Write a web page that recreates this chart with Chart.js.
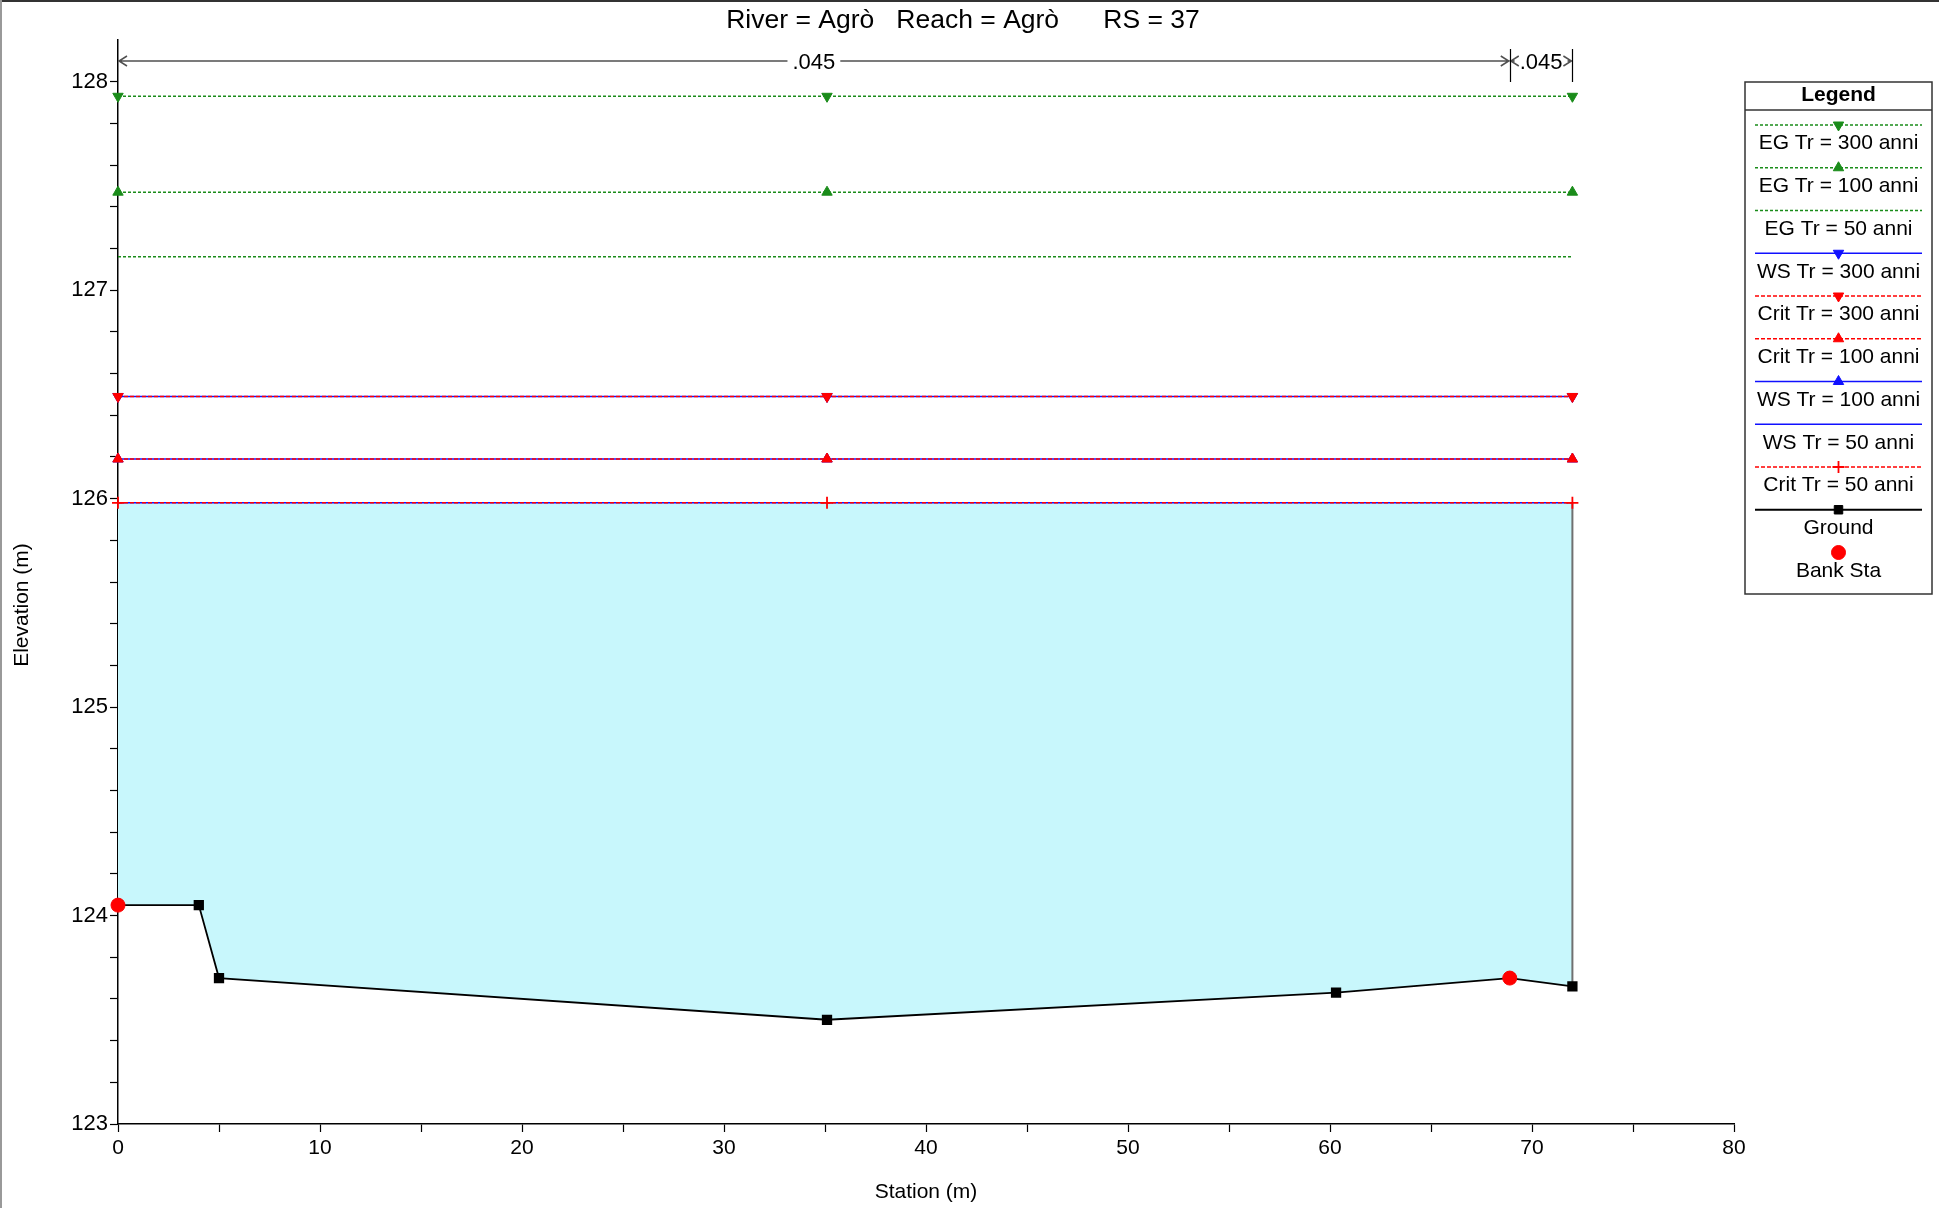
<!DOCTYPE html>
<html>
<head>
<meta charset="utf-8">
<title>River = Agrò Reach = Agrò RS = 37</title>
<script src="https://cdn.jsdelivr.net/npm/chart.js@4.4.1/dist/chart.umd.min.js"></script>
<style>
  html, body { margin: 0; padding: 0; background: #fff; }
  #wrap { position: relative; width: 1939px; height: 1208px; }
  #wrap::before { content: ""; position: absolute; left: 0; top: 0; width: 1939px; height: 2px; background: #333; }
  #wrap::after { content: ""; position: absolute; left: 0; top: 0; width: 2px; height: 1208px; background: #999; }
  #myChart { display: block; }
</style>
</head>
<body>
<div id="wrap"><canvas id="myChart" width="1939" height="1208"></canvas></div>
<script>
const TITLE = "River = Agrò   Reach = Agrò      RS = 37";
const FONT = '"Liberation Sans", Arial, sans-serif';

// profile levels (m), order: Tr 300, Tr 100, Tr 50
const egElev = [127.93, 127.47, 127.16];
const wsElev = [126.49, 126.19, 125.98];
const critElev = [126.49, 126.19, 125.98];
const markSta = [0, 35.1, 72]; // stations where level markers are drawn

// ground profile
const groundSta = [0, 4, 5, 35.1, 60.3, 68.9, 72];
const groundElev = [124.05, 124.05, 123.7, 123.5, 123.63, 123.7, 123.66];

// bank stations
const bankSta = [0, 68.9];
const bankElev = [124.05, 123.7];

// manning n breaks along the top
const mannBreaks = [0, 68.9, 72];
const mannN = [".045", ".045"];

const GREEN = "#1a8c1a";
const BLUE = "#1010ff";
const RED = "#ff0000";

// tick labels in the reference use a narrow face; use it if it is installed
function hasFont(name) {
  const c = document.createElement("canvas").getContext("2d");
  c.font = "40px monospace";
  const a = c.measureText("128 Station").width;
  c.font = '40px "' + name + '", monospace';
  const b = c.measureText("128 Station").width;
  return a !== b;
}
const NARROW = hasFont("Liberation Sans Narrow");
const yTickFont = NARROW
  ? { family: '"Liberation Sans Narrow", ' + FONT, size: 24 }
  : { family: FONT, size: 22 };
const xTickFont = NARROW
  ? { family: '"Liberation Sans Narrow", ' + FONT, size: 23 }
  : { family: FONT, size: 21 };

Chart.defaults.font.family = FONT;
Chart.defaults.color = "#000";

function levelLine(label, elev, color, dash, style, rotation, order) {
  return {
    label: label,
    data: markSta.map((x) => ({ x: x, y: elev })),
    borderColor: color,
    borderWidth: 1.5,
    borderDash: dash,
    pointStyle: style || "circle",
    pointRotation: rotation || 0,
    pointRadius: style ? 6 : 0,
    pointBorderWidth: style === "cross" ? 1.8 : 1,
    pointBackgroundColor: color,
    pointBorderColor: color,
    clip: false,
    order: order,
    inLegend: true,
  };
}

const lastG = groundSta.length - 1;
const waterPoly = [
  { x: groundSta[0], y: wsElev[2] },
  { x: groundSta[lastG], y: wsElev[2] },
];
for (let i = lastG; i >= 0; i--) {
  waterPoly.push({ x: groundSta[i], y: groundElev[i] });
}

const datasets = [
  levelLine("EG Tr = 300 anni", egElev[0], GREEN, [3, 2], "triangle", 180, 4),
  levelLine("EG Tr = 100 anni", egElev[1], GREEN, [3, 2], "triangle", 0, 4),
  levelLine("EG Tr = 50 anni", egElev[2], GREEN, [3, 2], null, 0, 4),
  levelLine("WS Tr = 300 anni", wsElev[0], BLUE, [], "triangle", 180, 4),
  levelLine("Crit Tr = 300 anni", critElev[0], RED, [4, 2], "triangle", 180, 2),
  levelLine("Crit Tr = 100 anni", critElev[1], RED, [4, 2], "triangle", 0, 2),
  levelLine("WS Tr = 100 anni", wsElev[1], BLUE, [], "triangle", 0, 4),
  levelLine("WS Tr = 50 anni", wsElev[2], BLUE, [], null, 0, 4),
  levelLine("Crit Tr = 50 anni", critElev[2], RED, [4, 2], "cross", 0, 2),
  {
    label: "Ground",
    data: groundSta.map((x, i) => ({ x: x, y: groundElev[i] })),
    borderColor: "#000",
    borderWidth: 1.8,
    pointStyle: "rect",
    pointRadius: 6,
    pointBackgroundColor: "#000",
    pointBorderColor: "#000",
    clip: false,
    order: 1,
    inLegend: true,
  },
  {
    label: "Bank Sta",
    data: bankSta.map((x, i) => ({ x: x, y: bankElev[i] })),
    showLine: false,
    pointStyle: "circle",
    pointRadius: 7,
    pointBackgroundColor: RED,
    pointBorderColor: RED,
    borderColor: RED,
    clip: false,
    order: 0,
    inLegend: true,
  },
  {
    label: "water edge",
    data: [
      { x: groundSta[lastG], y: wsElev[2] },
      { x: groundSta[lastG], y: groundElev[lastG] },
    ],
    borderColor: "#707070",
    borderWidth: 2,
    pointRadius: 0,
    order: 5,
  },
  {
    label: "water",
    data: waterPoly,
    fill: "shape",
    backgroundColor: "rgb(200,247,252)",
    borderColor: "rgba(0,0,0,0)",
    borderWidth: 0,
    pointRadius: 0,
    order: 6,
  },
];

const extras = {
  id: "extras",
  afterDraw(chart) {
    const { ctx, chartArea, scales } = chart;
    ctx.save();

    // title
    ctx.fillStyle = "#000";
    ctx.textAlign = "center";
    ctx.textBaseline = "middle";
    ctx.font = "26.5px " + FONT;
    ctx.fillText(TITLE, 963, 21);

    // y axis title, centred on the page height like the reference
    ctx.save();
    ctx.translate(22, 605);
    ctx.rotate(-Math.PI / 2);
    ctx.font = "21px " + FONT;
    ctx.fillText("Elevation (m)", 0, 0);
    ctx.restore();

    // manning n arrows
    const yA = chartArea.top + 21;
    ctx.strokeStyle = "#505050";
    ctx.lineWidth = 1.5;
    ctx.font = "22px " + FONT;
    for (let i = 0; i < mannN.length; i++) {
      const xa = scales.x.getPixelForValue(mannBreaks[i]);
      const xb = scales.x.getPixelForValue(mannBreaks[i + 1]);
      const mid = (xa + xb) / 2;
      const half = ctx.measureText(mannN[i]).width / 2 + 5;
      ctx.beginPath();
      if (mid - half > xa + 2) {
        ctx.moveTo(xa, yA);
        ctx.lineTo(mid - half, yA);
      }
      if (mid + half < xb - 2) {
        ctx.moveTo(mid + half, yA);
        ctx.lineTo(xb, yA);
      }
      // open arrow heads
      ctx.moveTo(xa + 9, yA - 5);
      ctx.lineTo(xa + 1, yA);
      ctx.lineTo(xa + 9, yA + 5);
      ctx.moveTo(xb - 9, yA - 5);
      ctx.lineTo(xb - 1, yA);
      ctx.lineTo(xb - 9, yA + 5);
      ctx.stroke();
      ctx.fillText(mannN[i], mid, yA + 2);
    }
    ctx.strokeStyle = "#000";
    ctx.lineWidth = 1.2;
    ctx.beginPath();
    for (let i = 1; i < mannBreaks.length; i++) {
      const xb = Math.round(scales.x.getPixelForValue(mannBreaks[i])) + 0.5;
      ctx.moveTo(xb, chartArea.top + 9);
      ctx.lineTo(xb, chartArea.top + 42);
    }
    ctx.stroke();

    // legend box
    const bx = 1745, by = 82, bw = 187, bh = 512;
    const cx = bx + bw / 2;
    ctx.fillStyle = "#fff";
    ctx.fillRect(bx, by, bw, bh);
    ctx.strokeStyle = "#333";
    ctx.lineWidth = 1.5;
    ctx.strokeRect(bx, by, bw, bh);
    ctx.beginPath();
    ctx.moveTo(bx, by + 28);
    ctx.lineTo(bx + bw, by + 28);
    ctx.stroke();
    ctx.fillStyle = "#000";
    ctx.font = "bold 21px " + FONT;
    ctx.fillText("Legend", cx, by + 13);

    const items = chart.data.datasets.filter((d) => d.inLegend);
    ctx.font = "21px " + FONT;
    items.forEach((d, i) => {
      const ly = 125 + i * 42.75;
      if (d.showLine !== false) {
        ctx.save();
        ctx.strokeStyle = d.borderColor;
        ctx.lineWidth = d.borderWidth;
        ctx.setLineDash(d.borderDash || []);
        ctx.beginPath();
        ctx.moveTo(1755, ly);
        ctx.lineTo(1922, ly);
        ctx.stroke();
        ctx.restore();
      }
      if (d.pointRadius > 0) {
        ctx.save();
        ctx.fillStyle = d.pointBackgroundColor;
        ctx.strokeStyle = d.pointBorderColor;
        ctx.lineWidth = d.pointBorderWidth || 1;
        Chart.helpers.drawPoint(ctx, {
          pointStyle: d.pointStyle,
          rotation: d.pointRotation || 0,
          radius: d.pointRadius,
          borderWidth: d.pointBorderWidth || 1,
        }, cx, ly);
        ctx.restore();
      }
      ctx.fillStyle = "#000";
      ctx.fillText(d.label, cx, ly + 18.5);
    });

    ctx.restore();
  },
};

const canvas = document.getElementById("myChart");
const ctx = canvas.getContext("2d");

new Chart(ctx, {
  type: "line",
  data: { datasets: datasets },
  options: {
    responsive: false,
    animation: false,
    devicePixelRatio: 1,
    layout: { padding: { left: 0, top: 40, right: 205, bottom: 0 } },
    scales: {
      x: {
        type: "linear",
        min: 0,
        max: 80,
        afterFit: (scale) => { scale.height = 84; },
        border: { display: true, color: "#000", width: 1.5 },
        grid: { drawOnChartArea: false, tickLength: 8, tickColor: "#000", tickWidth: 1.2 },
        ticks: {
          stepSize: 5,
          autoSkip: false,
          maxRotation: 0,
          color: "#000",
          padding: 4,
          font: xTickFont,
          callback: (v) => (v % 10 === 0 ? v : ""),
        },
        title: { display: true, text: "Station (m)", color: "#000", font: { size: 21 }, padding: { top: 0, bottom: 3 } },
      },
      y: {
        type: "linear",
        min: 123,
        max: 128.2,
        afterFit: (scale) => { scale.width = 118; },
        border: { display: true, color: "#000", width: 1.5 },
        grid: {
          drawOnChartArea: false,
          tickLength: 8,
          tickWidth: 1.2,
          tickColor: (c) => (c.tick && c.tick.value > 128.1 ? "rgba(0,0,0,0)" : "#000"),
        },
        ticks: {
          stepSize: 0.2,
          autoSkip: false,
          color: "#000",
          padding: 2,
          font: yTickFont,
          callback: (v) => (Math.abs(v - Math.round(v)) < 1e-6 ? String(Math.round(v)) : ""),
        },
        title: { display: false },
      },
    },
    plugins: {
      legend: { display: false },
      tooltip: { enabled: false },
    },
  },
  plugins: [extras],
});
</script>
</body>
</html>
